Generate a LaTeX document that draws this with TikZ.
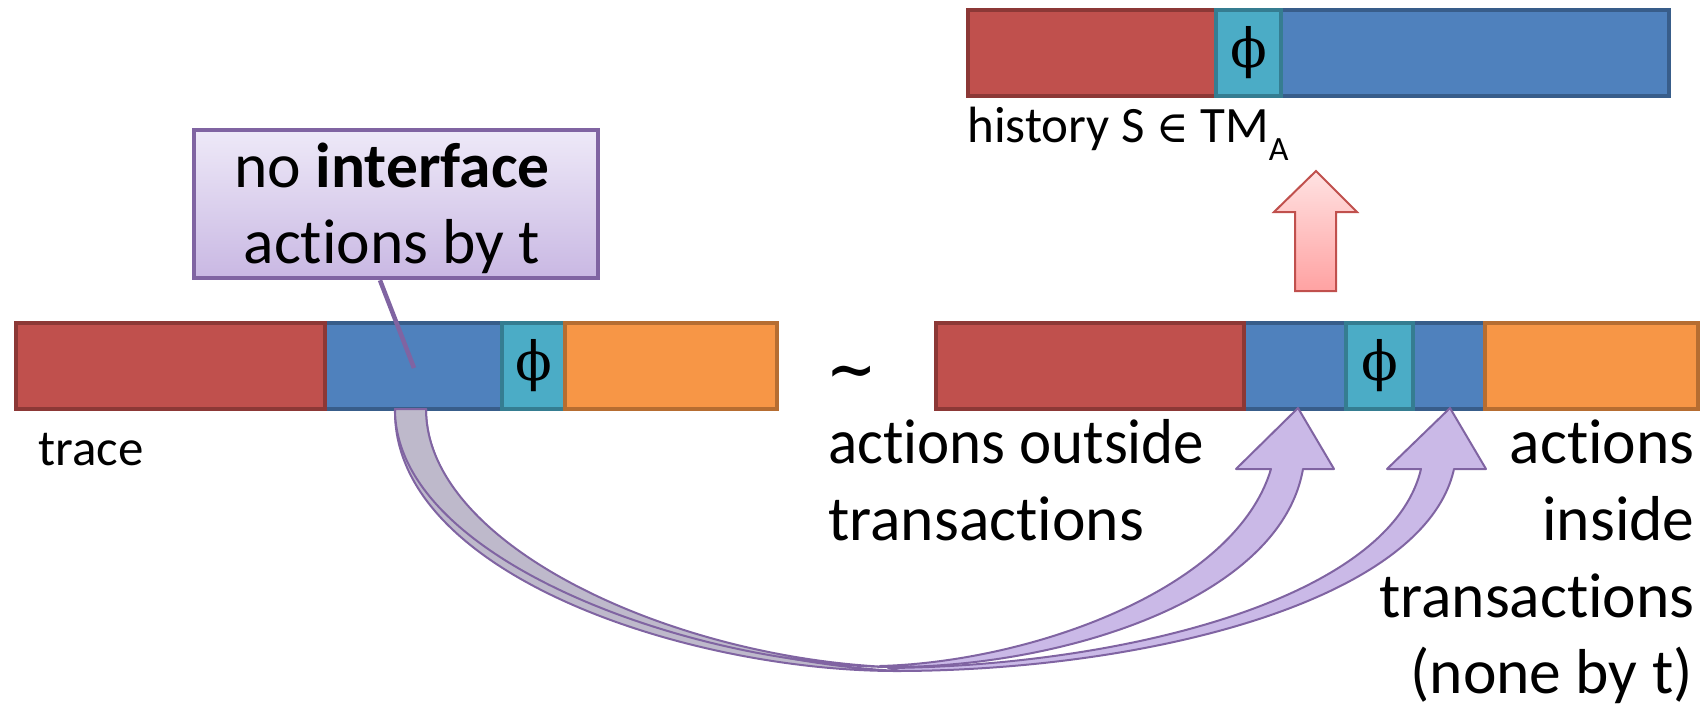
\documentclass[tikz,border=0pt]{standalone}
\usepackage{fontspec}
\setmainfont{Carlito}[Ligatures=NoCommon]
\newfontfamily\symbolfont{DejaVu Serif}
\usetikzlibrary{calc}

\definecolor{barRed}{HTML}{C0504D}
\definecolor{barRedLine}{HTML}{8C3836}
\definecolor{barBlue}{HTML}{4F81BD}
\definecolor{barBlueLine}{HTML}{385D8A}
\definecolor{barCyan}{HTML}{4BACC6}
\definecolor{barCyanLine}{HTML}{357D91}
\definecolor{barOrange}{HTML}{F79646}
\definecolor{barOrangeLine}{HTML}{B66D31}
\definecolor{calloutLine}{HTML}{8064A2}
\definecolor{calloutTop}{HTML}{EEE9F8}
\definecolor{calloutBottom}{HTML}{C9B8E3}
\definecolor{bendBack}{HTML}{BEB9CB}
\definecolor{bendFront}{HTML}{CAB9E7}
\definecolor{liftTop}{HTML}{FFE2E2}
\definecolor{liftBottom}{HTML}{FFA2A2}

\begin{document}
\begin{tikzpicture}[x=0.5pt,y=-0.5pt,
  seg/.style={rectangle, line width=2pt, inner sep=0pt, minimum height=43pt},
  redseg/.style={seg, fill=barRed, draw=barRedLine},
  blueseg/.style={seg, fill=barBlue, draw=barBlueLine},
  cyanseg/.style={seg, fill=barCyan, draw=barCyanLine, font=\symbolfont\fontsize{27pt}{27pt}\selectfont},
  orangeseg/.style={seg, fill=barOrange, draw=barOrangeLine},
  big/.style={font=\fontsize{31.75pt}{38.5pt}\selectfont, inner sep=0pt},
  small/.style={font=\fontsize{25.5pt}{30pt}\selectfont, inner sep=0pt},
  bendline/.style={draw=calloutLine, line width=1pt, line join=round},
]
\useasboundingbox (0,0) rectangle (1704,707);

% ---- trace (left bar)
\node[blueseg, minimum width=88.5pt] (tblue) at (413.5,366) {};
\node[redseg, minimum width=154.5pt] (tred) at (170.5,366) {};
\node[cyanseg, minimum width=31.5pt] (tphi) at (533.5,366) {ϕ};
\node[orangeseg, minimum width=106pt] (torange) at (671,366) {};
\node[small, anchor=base west] (tracelbl) at (38,465) {trace};

% ---- equivalent trace (right bar)
\node[blueseg, minimum width=120.5pt] (rblue) at (1364.5,366) {};
\node[redseg, minimum width=154pt] (rred) at (1090,366) {};
\node[cyanseg, minimum width=33.5pt] (rphi) at (1379.5,366) {ϕ};
\node[orangeseg, minimum width=106.5pt] (rorange) at (1591.5,366) {};

\node[font=\symbolfont\bfseries\fontsize{30pt}{30pt}\selectfont] (equiv) at (852,378) {∼};

% ---- history (top bar)
\node[blueseg, minimum width=194pt] (hblue) at (1475,53) {};
\node[redseg, minimum width=124pt] (hred) at (1092,53) {};
\node[cyanseg, minimum width=32.5pt] (hphi) at (1248.5,53) {ϕ};
\node[small, anchor=base west] (histlbl) at (967,142)
  {history S {\symbolfont\fontsize{22pt}{22pt}\selectfont ∈} TM\raisebox{-9pt}{\fontsize{17pt}{17pt}\selectfont A}};

% ---- block arrow from the equivalent trace up to the history
\path[draw=barRed, line width=1pt, top color=liftTop, bottom color=liftBottom]
  (1316,171) -- (1357,212) -- (1336,212) -- (1336,291) -- (1295,291)
  -- (1295,212) -- (1274,212) -- cycle;

% ---- callout
\node[rectangle, draw=calloutLine, line width=2.25pt, top color=calloutTop,
      bottom color=calloutBottom, minimum width=202pt, minimum height=74pt]
      (callout) at (396,204) {};
\node[big, anchor=base] (cl1) at (392,187) {no \textbf{interface}};
\node[big, anchor=base] (cl2) at (392,263) {actions by t};
\coordinate (ptrTip) at (414,368);
\draw[calloutLine, line width=2.25pt] ($(callout.south)+(-16,0)$) -- (ptrTip);

% ---- curved arrow to the part after phi
\path[bendline, fill=bendBack]
  (395,409) .. controls (392,575) and (690,672) .. (900,671)
  .. controls (680,661) and (426,550) .. (426,409) -- cycle;
\path[bendline, fill=bendFront]
  (900,671) .. controls (1150,670) and (1425,600) .. (1454,469)
  -- (1486,469) -- (1450,408) -- (1387,469) -- (1421,469)
  .. controls (1390,600) and (1120,666) .. (888,668) -- cycle;

% ---- curved arrow to the part before phi
\path[bendline, fill=bendBack]
  (395,409) .. controls (395,560) and (690,664) .. (888,667)
  .. controls (670,657) and (426,545) .. (426,409) -- cycle;
\path[bendline, fill=bendFront]
  (888,667) .. controls (1060,668) and (1280,600) .. (1303,469)
  -- (1334,469) -- (1298,408) -- (1236,469) -- (1271,469)
  .. controls (1235,590) and (1030,662) .. (880,666) -- cycle;

% ---- labels
\node[big, anchor=base west] (out1) at (828,463) {\scalebox{0.96}[1]{actions outside}};
\node[big, anchor=base west] (out2) at (828,540) {transactions};
\node[big, anchor=base east] (in1) at (1695,463) {actions};
\node[big, anchor=base east] (in2) at (1695,540) {inside};
\node[big, anchor=base east] (in3) at (1695,617) {transactions};
\node[big, anchor=base east] (in4) at (1693,693) {(none by t)};
\end{tikzpicture}
\end{document}
